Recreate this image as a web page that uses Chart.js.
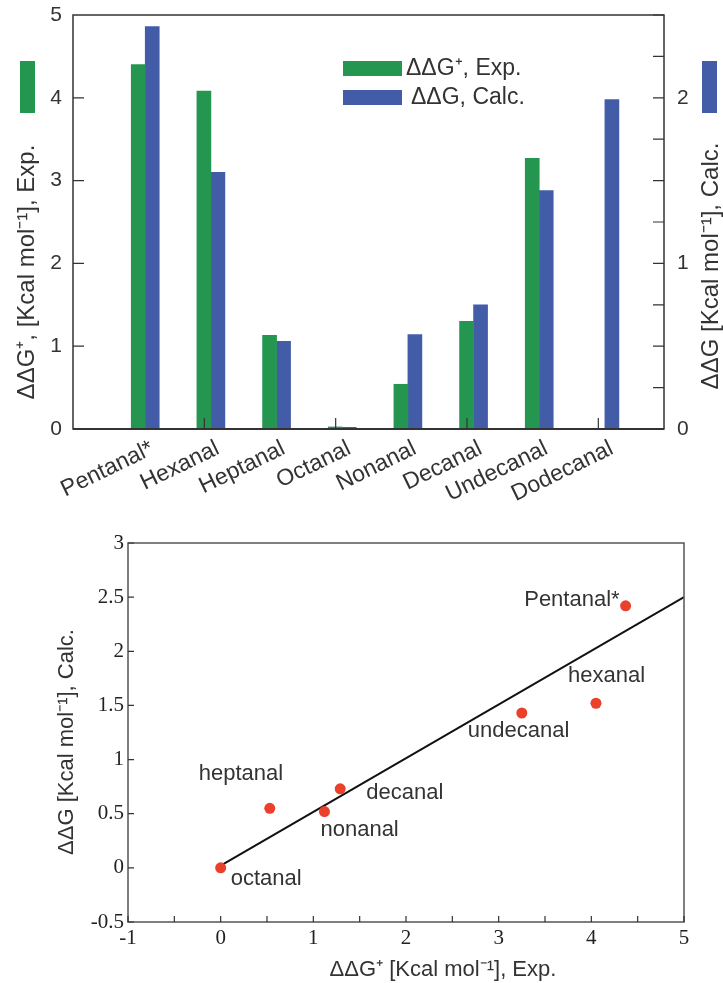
<!DOCTYPE html>
<html>
<head>
<meta charset="utf-8">
<script src="https://cdn.jsdelivr.net/npm/chart.js@4"></script>
<style>
  body{margin:0;background:#fff;width:723px;height:983px;position:relative;overflow:hidden}
  canvas{position:absolute;left:0}
  #barChart{top:0}
  #scatterChart{top:500px}
</style>
</head>
<body>
<canvas id="barChart" width="723" height="512"></canvas>
<canvas id="scatterChart" width="723" height="483"></canvas>
<script>
// bar panel: aldehyde chain lengths
const aldehydes = ['Pentanal*','Hexanal','Heptanal','Octanal','Nonanal','Decanal','Undecanal','Dodecanal'];
const slotX = [1,2,3,4,5,6,7,8];
const expDDG = [4.40, 4.08, 1.13, 0.025, 0.54, 1.30, 3.27, null];   // left axis
const calcDDG = [2.43, 1.55, 0.53, 0.01, 0.57, 0.75, 1.44, 1.99];   // right axis
const xTickMarks = [1.9, 3.9, 5.9, 7.9];

// scatter panel
const pointNames = ['Pentanal*','hexanal','undecanal','decanal','nonanal','heptanal','octanal'];
const pointExp = [4.37, 4.05, 3.25, 1.29, 1.12, 0.53, 0.0];
const pointCalc = [2.42, 1.52, 1.43, 0.73, 0.52, 0.55, 0.0];
const fitX = [0, 5];
const fitY = [0.02, 2.5];

const GREEN = '#25964f', BLUE = '#425ca8', RED = '#e9412b', INK = '#333';
const SANS = "'Liberation Sans', Arial, sans-serif";
const SERIF = "'Liberation Serif', 'Times New Roman', serif";

// label placement next to each point: [dx, dy, align]
const labelPos = [[-6,-6,'right'],[-28,-27,'left'],[-54,18,'left'],[26,4,'left'],[-4,18,'left'],[-71,-34,'left'],[10,11,'left']];

// pin axis sizes so the plot area lands where the figure has it
function fix(w, h){
  return s => {
    if(w != null) s.width = w;
    if(h != null) s.height = h;
    s.paddingTop = s.paddingBottom = s.paddingLeft = s.paddingRight = 0;
  };
}

function inwardTicks(chart, id, len, values){
  const s = chart.scales[id], a = chart.chartArea, c = chart.ctx;
  const vals = values || s.ticks.map(t => t.value);
  c.save();
  c.strokeStyle = INK; c.lineWidth = 1.2;
  c.beginPath();
  vals.forEach(v => {
    const p = s.getPixelForValue(v);
    if(s.axis === 'x'){ c.moveTo(p, a.bottom); c.lineTo(p, a.bottom - len); }
    else if(s.position === 'left'){ c.moveTo(a.left, p); c.lineTo(a.left + len, p); }
    else { c.moveTo(a.right, p); c.lineTo(a.right - len, p); }
  });
  c.stroke();
  c.restore();
}

function vText(c, text, x, y, font){
  c.save();
  c.translate(x, y); c.rotate(-Math.PI/2);
  c.font = font; c.fillStyle = INK;
  c.textAlign = 'center'; c.textBaseline = 'middle';
  c.fillText(text, 0, 0);
  c.restore();
}

const barDecor = {
  id: 'barDecor',
  afterDraw(chart){
    const c = chart.ctx, a = chart.chartArea;
    c.save();
    c.strokeStyle = INK; c.lineWidth = 1.5;
    c.strokeRect(a.left, a.top, a.right - a.left, a.bottom - a.top);
    c.lineWidth = 2.2;
    c.beginPath(); c.moveTo(a.left, a.bottom); c.lineTo(a.right, a.bottom); c.stroke();
    c.restore();
    inwardTicks(chart, 'yExp', 11, [1,2,3,4]);
    inwardTicks(chart, 'yCalc', 11);
    inwardTicks(chart, 'x', 11, xTickMarks);

    // axis titles with colour keys
    c.fillStyle = GREEN; c.fillRect(20, 61, 15, 52);
    c.fillStyle = BLUE; c.fillRect(702, 61, 15, 52);
    vText(c, 'ΔΔG⁺, [Kcal mol⁻¹], Exp.', 27, 272, '24px ' + SANS);
    vText(c, 'ΔΔG [Kcal mol⁻¹], Calc.', 711, 266, '24px ' + SANS);

    // legend
    const ds = chart.data.datasets;
    c.font = '23px ' + SANS; c.textBaseline = 'middle'; c.textAlign = 'left';
    c.fillStyle = ds[0].backgroundColor; c.fillRect(343, 61, 59, 15);
    c.fillStyle = ds[1].backgroundColor; c.fillRect(343, 90, 59, 15);
    c.fillStyle = INK;
    c.fillText(ds[0].label, 406, 69);
    c.fillText(ds[1].label, 411, 98);
  }
};

new Chart(document.getElementById('barChart'), {
  type: 'bar',
  data: {
    datasets: [
      {label: 'ΔΔG⁺, Exp.', data: slotX.map((x,i) => ({x, y: expDDG[i]})), backgroundColor: GREEN, yAxisID: 'yExp', barThickness: 14},
      {label: 'ΔΔG, Calc.', data: slotX.map((x,i) => ({x, y: calcDDG[i]})), backgroundColor: BLUE, yAxisID: 'yCalc', barThickness: 14}
    ]
  },
  options: {
    responsive: false,
    animation: false,
    layout: {padding: {top: 15}},
    plugins: {legend: {display: false}, tooltip: {enabled: false}},
    scales: {
      x: {
        type: 'linear', min: -0.1, max: 8.9, offset: false,
        afterBuildTicks: s => { s.ticks = slotX.map(v => ({value: v})); },
        afterFit: fix(null, 83),
        grid: {display: false, drawTicks: false},
        border: {display: false},
        ticks: {
          autoSkip: false, minRotation: 26, maxRotation: 26, padding: 6, labelOffset: 7,
          color: INK, font: {family: SANS, size: 23},
          callback: v => aldehydes[slotX.indexOf(v)]
        }
      },
      yExp: {
        position: 'left', min: 0, max: 5,
        afterFit: fix(73, null),
        grid: {display: false, drawTicks: false},
        border: {display: false},
        ticks: {stepSize: 1, padding: 11, color: INK, font: {family: SANS, size: 21}}
      },
      yCalc: {
        position: 'right', min: 0, max: 2.5,
        afterFit: fix(59, null),
        grid: {display: false, drawTicks: false},
        border: {display: false},
        ticks: {stepSize: 0.25, padding: 13, color: INK, font: {family: SANS, size: 21},
          callback: v => Number.isInteger(v) ? v : ''}
      }
    }
  },
  plugins: [barDecor]
});

const scatterDecor = {
  id: 'scatterDecor',
  afterDraw(chart){
    const c = chart.ctx, a = chart.chartArea;
    c.save();
    c.strokeStyle = '#555'; c.lineWidth = 1.5;
    c.strokeRect(a.left, a.top, a.right - a.left, a.bottom - a.top);
    c.restore();
    inwardTicks(chart, 'x', 6);
    inwardTicks(chart, 'y', 6);

    // point names
    const meta = chart.getDatasetMeta(1);
    c.save();
    c.font = '22px ' + SANS; c.fillStyle = INK; c.textBaseline = 'middle';
    pointNames.forEach((name, i) => {
      const el = meta.data[i], p = labelPos[i];
      c.textAlign = p[2];
      c.fillText(name, el.x + p[0], el.y + p[1]);
    });
    c.restore();

    c.save();
    c.font = '22px ' + SANS; c.fillStyle = INK; c.textAlign = 'center'; c.textBaseline = 'middle';
    c.fillText('ΔΔG⁺ [Kcal mol⁻¹], Exp.', 443, 470);
    c.restore();
    vText(c, 'ΔΔG [Kcal mol⁻¹], Calc.', 67, 242, '22px ' + SANS);
  }
};

new Chart(document.getElementById('scatterChart'), {
  type: 'scatter',
  data: {
    datasets: [
      {data: fitX.map((x,i) => ({x, y: fitY[i]})), showLine: true, borderColor: '#111', borderWidth: 2, pointRadius: 0, order: 2},
      {data: pointExp.map((x,i) => ({x, y: pointCalc[i]})), backgroundColor: RED, borderWidth: 0, pointRadius: 5.5, order: 1}
    ]
  },
  options: {
    responsive: false,
    animation: false,
    layout: {padding: {top: 43, right: 39}},
    plugins: {legend: {display: false}, tooltip: {enabled: false}},
    scales: {
      x: {
        min: -1, max: 5,
        afterFit: fix(null, 61),
        grid: {display: false, drawTicks: false},
        border: {display: false},
        ticks: {stepSize: 0.5, padding: 4, color: '#222', font: {family: SERIF, size: 21},
          callback: v => Number.isInteger(v) ? v : ''}
      },
      y: {
        min: -0.5, max: 3,
        afterFit: fix(128, null),
        grid: {display: false, drawTicks: false},
        border: {display: false},
        ticks: {stepSize: 0.25, padding: 4, color: '#222', font: {family: SERIF, size: 21},
          callback: v => Math.abs(v*2 - Math.round(v*2)) < 1e-9 ? v : ''}
      }
    }
  },
  plugins: [scatterDecor]
});
</script>
</body>
</html>
